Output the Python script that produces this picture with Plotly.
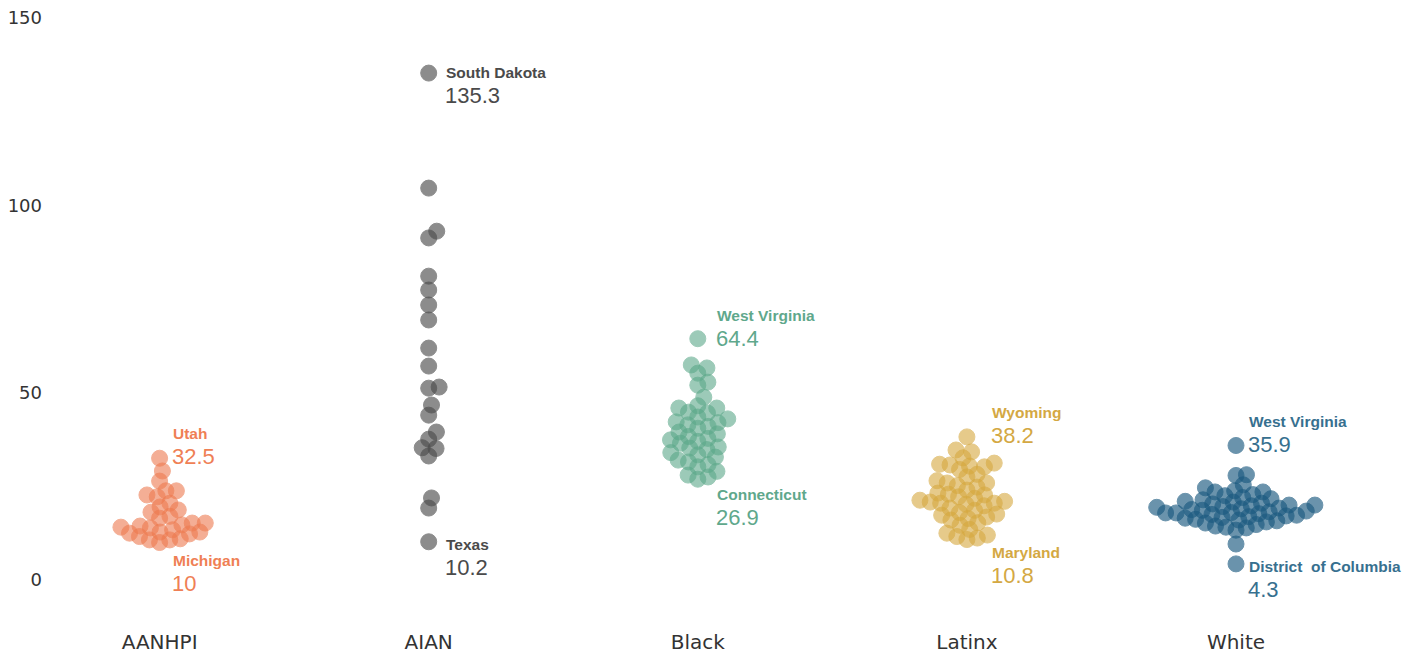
import math
import plotly.graph_objects as go

# ---------------- data ----------------
categories = ["AANHPI", "AIAN", "Black", "Latinx", "White"]

aanhpi = [32.5, 29.1, 26.4, 23.8, 23.8, 22.7, 22.2, 20.5, 19.5, 18.7, 18.1, 17.0, 16.5,
          15.2, 15.2, 14.7, 14.4, 14.1, 13.9, 13.4, 12.8, 12.8, 12.5, 12.3, 11.6, 11.0,
          10.7, 10.7, 10.0]
aian = [135.3, 104.6, 93.1, 91.3, 81.1, 77.4, 73.4, 69.4, 61.9, 57.1, 51.5, 51.2, 46.7,
        44.0, 39.5, 37.6, 35.3, 35.1, 33.1, 21.9, 19.2, 10.2]
black = [64.4, 57.4, 56.6, 55.2, 52.8, 52.0, 48.8, 46.5, 45.9, 45.9, 44.8, 44.6, 43.5,
         43.0, 42.2, 42.0, 41.4, 41.0, 40.5, 39.5, 39.0, 38.3, 37.8, 37.4, 37.0, 36.5,
         35.5, 35.2, 34.8, 34.0, 33.4, 32.8, 32.0, 31.5, 30.8, 30.2, 29.0, 28.0, 27.5, 26.9]
latinx = [38.2, 34.7, 34.2, 32.6, 31.2, 30.9, 30.7, 30.4, 30.2, 29.5, 28.2, 27.5, 26.5,
          25.9, 25.9, 25.2, 24.8, 24.0, 23.2, 22.9, 22.7, 22.2, 21.8, 21.3, 21.0, 20.8,
          20.5, 20.5, 20.2, 19.8, 19.2, 18.6, 18.0, 17.6, 17.3, 16.8, 16.4, 16.0, 15.3,
          14.6, 13.5, 12.5, 12.0, 11.6, 11.2, 10.8]
white = [35.9, 28.1, 27.9, 25.4, 24.6, 23.8, 23.5, 23.5, 22.8, 22.5, 22.0, 21.7, 21.4,
         21.0, 20.8, 20.5, 20.3, 20.0, 20.0, 19.8, 19.6, 19.4, 19.2, 19.0, 18.8, 18.6,
         18.4, 18.2, 18.0, 17.9, 17.9, 17.7, 17.5, 17.3, 17.1, 16.9, 16.7, 16.5, 16.2,
         16.0, 15.8, 15.5, 15.2, 14.8, 14.4, 14.1, 13.9, 13.3, 9.6, 4.3]

max_states = ["Utah", "South Dakota", "West Virginia", "Wyoming", "West Virginia"]
min_states = ["Michigan", "Texas", "Connecticut", "Maryland", "District  of Columbia"]

y_ticks = [0, 50, 100, 150]

# ---------------- styling / layout ----------------
series = [aanhpi, aian, black, latinx, white]
marker_colors = ["#EE7A4F", "#4a4a4a", "#5BA889", "#D6A83E", "#1B5A80"]
marker_opac = [0.6, 0.63, 0.6, 0.6, 0.65]
label_colors = ["#EF7F55", "#4a4a4a", "#5FA88C", "#D4A843", "#37708F"]
label_dx = [11, 15, 17, 23, 11]              # px to the right of column centre
max_name_dy = [-25, -1, -23, -24, -24]       # px relative to point (screen, down +)
min_name_dy = [18, 3, 15, 13, 3]

# page body has an 8px default margin: figure sits at (8, 8)
W, H = 1412, 653
M_L, M_R, M_T, M_B = 42, 8, 0, 81
plot_w = W - M_L - M_R
plot_h = H - M_T - M_B
px_per_unit = 562 / 150.0          # 0 -> 150 spans 562 px
y_range = [0, plot_h / px_per_unit]
px_per_cat = 269.1
cat0_px = 151.6
x0 = -(cat0_px - M_L) / px_per_cat
x1 = x0 + plot_w / px_per_cat

def beeswarm(vals, d):
    ys = [v * px_per_unit for v in vals]
    order = sorted(range(len(vals)), key=lambda i: vals[i])
    placed = []
    xs = [0.0] * len(vals)
    for i in order:
        y = ys[i]
        cands = [0.0]
        for (px, py) in placed:
            dy = abs(y - py)
            if dy < d:
                dx = math.sqrt(d * d - dy * dy)
                cands += [px + dx, px - dx]
        cands.sort(key=lambda c: (round(abs(c), 6), -c))
        for c in cands:
            ok = True
            for (px, py) in placed:
                if (c - px) ** 2 + (y - py) ** 2 < d * d - 1e-6:
                    ok = False
                    break
            if ok:
                xs[i] = c
                placed.append((c, y))
                break
    return xs

fig = go.Figure()
annotations = []
for k, vals in enumerate(series):
    offs = beeswarm(vals, 10.5)
    xs = [k + o / px_per_cat for o in offs]
    fig.add_trace(go.Scatter(
        x=xs, y=vals, mode="markers", hoverinfo="y",
        marker=dict(size=16, color=marker_colors[k], opacity=marker_opac[k],
                    line=dict(width=1, color=marker_colors[k])),
        showlegend=False))
    vmax, vmin = max(vals), min(vals)
    c = label_colors[k]
    for name, v, ndy in [(max_states[k], vmax, max_name_dy[k]), (min_states[k], vmin, min_name_dy[k])]:
        annotations.append(dict(x=k, y=v, xref="x", yref="y", text="<b>%s</b>" % name,
                                showarrow=False, xanchor="left", yanchor="middle",
                                xshift=label_dx[k], yshift=-ndy,
                                font=dict(family="Liberation Sans, Arial", size=15.5, color=c)))
        vtxt = ("%g" % v)
        annotations.append(dict(x=k, y=v, xref="x", yref="y", text=vtxt,
                                showarrow=False, xanchor="left", yanchor="middle",
                                xshift=label_dx[k] - 1, yshift=-(ndy + 23),
                                font=dict(family="Liberation Sans, Arial", size=22, color=c)))

fig.update_layout(
    width=W, height=H,
    margin=dict(l=M_L, r=M_R, t=M_T, b=M_B, autoexpand=False),
    paper_bgcolor="white", plot_bgcolor="white",
    annotations=annotations,
    xaxis=dict(range=[x0, x1], tickvals=list(range(len(categories))), ticktext=categories,
               showgrid=False, zeroline=False, showline=False, ticks="",
               automargin=False, ticklabelstandoff=48, ticklabeloverflow="allow",
               tickfont=dict(family="DejaVu Sans", size=20, color="#333333")),
    yaxis=dict(range=y_range, tickvals=y_ticks, showgrid=False, zeroline=False,
               showline=False, ticks="", ticklabelstandoff=7, automargin=False,
               ticklabeloverflow="allow",
               tickfont=dict(family="DejaVu Sans", size=18, color="#333333")),
)
fig.write_html("out.html")
